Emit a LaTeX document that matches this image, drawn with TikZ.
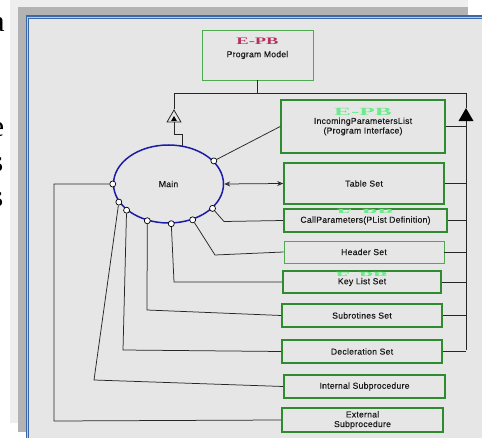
\documentclass[tikz,border=0pt]{standalone}
\usepackage{fontspec}
\setmainfont{Liberation Serif}
\setsansfont[LetterSpace=3,FakeBold=0.4]{Liberation Sans}
\usetikzlibrary{positioning,shapes.geometric,arrows.meta}

\definecolor{panelbg}{HTML}{E6E6E6}
\definecolor{boxgreen}{HTML}{2E8B2E}
\definecolor{lightgreen}{HTML}{4FAA4F}
\definecolor{ovalblue}{HTML}{1C1CA8}
\definecolor{epbred}{HTML}{B8325E}
\definecolor{epbgreen}{HTML}{6CEB8A}
\definecolor{framegray}{HTML}{B3B3B3}
\definecolor{shadegray}{HTML}{EEEEEE}
\definecolor{frameblue}{HTML}{3A68A8}
\definecolor{framelight}{HTML}{B8CCEA}

\newcommand{\epbtag}[1]{\scalebox{#1}[1]{\bfseries E-PB}}

\begin{document}
\begin{tikzpicture}[x=1pt,y=-1pt,
  lbl/.style={font=\sffamily\fontsize{8.6}{9.6}\selectfont,text=black!90},
  box/.style={draw=boxgreen,line width=1.6pt,fill=panelbg,lbl,align=center,inner sep=0pt},
  thinbox/.style={box,draw=lightgreen,line width=0.9pt},
  port/.style={circle,draw,fill=white,line width=0.7pt,inner sep=0pt,minimum size=6pt},
  conn/.style={draw=black!85,line width=0.75pt},
  tagR/.style={inner sep=0pt,text=epbred,font=\rmfamily\fontsize{10}{10}\selectfont},
  tagG/.style={inner sep=0pt,text=epbgreen,font=\rmfamily\fontsize{11}{11}\selectfont},
  pageletter/.style={anchor=base east,inner sep=0pt,font=\rmfamily\fontsize{30}{30}\selectfont}]

\useasboundingbox (0,0) rectangle (482,438);
\clip (0,0) rectangle (482,438);

% page and window frame
\node[pageletter] (la) at (5,32) {a};
\node[pageletter] (le) at (4.5,137) {e};
\node[pageletter] (ls1) at (3.5,172) {s};
\node[pageletter] (ls2) at (3.5,207) {s};
\fill[shadegray] (10,-2) rectangle (468,423);
\fill[framegray] (18,7) rectangle (468,432);
\filldraw[fill=panelbg,draw=frameblue,double=framelight,double distance=0.9pt,line width=1.4pt]
  (27.5,17) rectangle (500,460);

% boxes
\node[thinbox,minimum width=111,minimum height=50] (model) at (257.5,55) {Program Model};
\node[tagR,above=10pt of model.center] (modelTag) {\epbtag{1.85}};
\node[box,minimum width=164,minimum height=53] (incoming) at (363,126.5) {IncomingParametersList\\(Program Interface)};
\node[tagG,above=10.5pt of incoming.center] (incomingTag) {\epbtag{2.3}};
\node[box,minimum width=160,minimum height=41] (table) at (364,183.5) {Table Set};
\node[box,minimum width=163,minimum height=23] (callpar) at (365.5,220.5) {CallParameters(PList Definition)};
\node[thinbox,minimum width=160,minimum height=22] (header) at (364,252) {Header Set};
\node[box,minimum width=158,minimum height=22] (keylist) at (362,282) {Key List Set};
\node[box,minimum width=160,minimum height=23] (subrot) at (362,315.5) {Subrotines Set};
\node[box,minimum width=160,minimum height=23] (decl) at (362,351.5) {Decleration Set};
\node[box,minimum width=161,minimum height=23] (intsub) at (364.5,386.5) {Internal Subprocedure};
\node[box,minimum width=161,minimum height=24] (extsub) at (362.5,420) {External\\Subprocedure};

\begin{scope}
  \clip (330,206) rectangle (410,212.5);
  \node[tagG] (callTag) at (callpar.north |- 0,212.5) {\epbtag{2.3}};
\end{scope}
\begin{scope}
  \clip (330,268) rectangle (410,276);
  \node[tagG] (keyTag) at (keylist.north |- 0,276) {\epbtag{2.1}};
\end{scope}

\node[ellipse,draw=ovalblue,line width=1.5pt,fill=panelbg,minimum width=110,minimum height=78,inner sep=0pt,lbl] (main) at (168.5,184) {Main};

% generalisation bus
\coordinate (busL) at (174,93);
\coordinate (busR) at (466,93);
\coordinate (busB) at (466,350);
\draw[conn] (model.south) -- (model.south |- busL);
\draw[conn] (busL) -- (busR);
\node[regular polygon,regular polygon sides=3,draw=black!85,fill=panelbg,line width=0.8pt,minimum size=16,inner sep=0pt] (genL) at (174,118) {};
\node[regular polygon,regular polygon sides=3,fill=black,minimum size=6.5,inner sep=0pt] (genLdot) at (174,119.2) {};
\node[regular polygon,regular polygon sides=3,fill=black,minimum size=17.3,inner sep=0pt] (genR) at (466,116.7) {};
\draw[conn] (genL.corner 1) -- (busL);
\draw[conn] (genL.side 2) |- (main.70 |- 0,134) -- (main.70);
\draw[conn] (busR) -- (genR.corner 1);
\draw[conn] (genR.side 2) -- (busB);
\foreach \b in {incoming,table,callpar,header,keylist,subrot,decl}
  \draw[conn] (\b.east) -- (\b.east -| busR);

% ports on Main
\foreach \a/\p in {27/pInc,-29/pCall,-56/pHead,-86/pKey,-120/pSub,-148/pDecl,-160/pInt,180/pExt}
  \node[port] (\p) at (main.\a) {};

\draw[conn] (pInc) -- (incoming.west);
\draw[conn,{Stealth[open,length=6pt,width=5pt]}-{Stealth[open,length=6pt,width=5pt]}] (main.east) -- (table.west);
\draw[conn] (pCall) -- (224,221.5) -- (callpar.west);
\draw[conn] (pHead) -- (215,255) -- (header.west);
\draw[conn] (pKey) -- (174,282) -- (keylist.west);
\draw[conn] (pSub) -- (147,310) -- (subrot.west);
\draw[conn] (pDecl) -- (123,350) -- (decl.west);
\draw[conn] (pInt) -- (94,380) -- (intsub.west);
\draw[conn] (pExt) -| (54,421) -- (extsub.west);
\end{tikzpicture}
\end{document}
